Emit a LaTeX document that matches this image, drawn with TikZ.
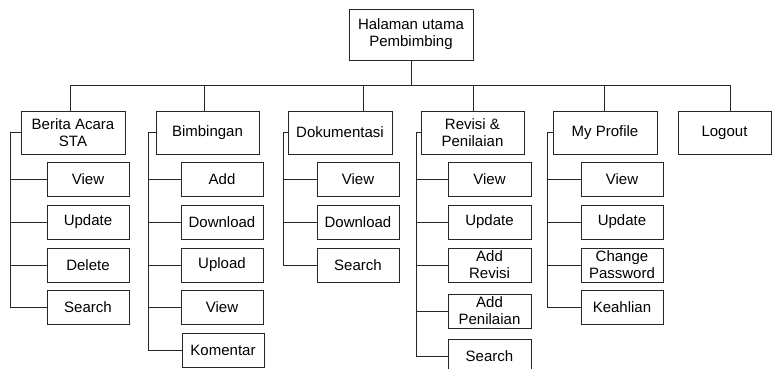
\documentclass[tikz,border=0pt]{standalone}
\usepackage{fontspec}
\setmainfont{Liberation Sans}
\begin{document}
\begin{tikzpicture}[x=1pt,y=-1pt,
  box/.style={draw=black!85,line width=0.8pt,fill=white,inner sep=0pt,align=center,
    font=\fontsize{15}{17}\selectfont,text=black},
  menu/.style={box,minimum height=43pt},
  sub/.style={box,minimum width=82pt,minimum height=34pt},
  wire/.style={draw=black!85,line width=0.8pt}]
\useasboundingbox (0,0) rectangle (772,368);

% root
\node[box,minimum width=124pt,minimum height=51pt] (root) at (411,34.5) {Halaman utama\\Pembimbing};

% main menu
\node[menu,minimum width=104pt] (berita) at (73,132.5)  {Berita Acara\\STA};
\node[menu,minimum width=103pt] (bimb)   at (207.5,132.5) {Bimbingan};
\node[menu,minimum width=104pt] (dok)    at (340,132.5) {Dokumentasi};
\node[menu,minimum width=103pt] (rev)    at (472.5,132.5) {Revisi \&\\Penilaian};
\node[menu,minimum width=104pt] (prof)   at (605,132.5) {My Profile};
\node[menu,minimum width=93pt]  (logout) at (724.5,132.5) {Logout};

% bus from the root to the menu
\coordinate (bus) at (411,85);
\coordinate (d1) at (70,85);
\coordinate (d2) at (204,85);
\coordinate (d3) at (363,85);
\coordinate (d4) at (473,85);
\coordinate (d5) at (604,85);
\coordinate (d6) at (730,85);
\draw[wire] (root.south) -- (bus);
\draw[wire] (d1) -- (d6);
\draw[wire] (d1) -- (d1 |- berita.north);
\draw[wire] (d2) -- (d2 |- bimb.north);
\draw[wire] (d3) -- (d3 |- dok.north);
\draw[wire] (d4) -- (d4 |- rev.north);
\draw[wire] (d5) -- (d5 |- prof.north);
\draw[wire] (d6) -- (d6 |- logout.north);

% Berita Acara STA
\node[sub] (a1) at (88,179) {View};
\node[sub] (a2) at (88,222) {Update};
\node[sub] (a3) at (88,265) {Delete};
\node[sub] (a4) at (88,307) {Search};
\coordinate (sa) at (10,132.5);
\draw[wire] (berita.west) -- (sa) |- (a4.west);
\foreach \n in {a1,a2,a3} \draw[wire] (sa |- \n.west) -- (\n.west);

% Bimbingan
\node[sub] (b1) at (222,179) {Add};
\node[sub] (b2) at (222,222) {Download};
\node[sub] (b3) at (222,265) {Upload};
\node[sub] (b4) at (222,307) {View};
\node[sub] (b5) at (223,350) {Komentar};
\coordinate (sb) at (148,132.5);
\draw[wire] (bimb.west) -- (sb) |- (b5.west);
\foreach \n in {b1,b2,b3,b4} \draw[wire] (sb |- \n.west) -- (\n.west);

% Dokumentasi
\node[sub] (c1) at (358,179) {View};
\node[sub] (c2) at (358,222) {Download};
\node[sub] (c3) at (358,265) {Search};
\coordinate (sc) at (283,132.5);
\draw[wire] (dok.west) -- (sc) |- (c3.west);
\foreach \n in {c1,c2} \draw[wire] (sc |- \n.west) -- (\n.west);

% Revisi & Penilaian
\node[sub,minimum width=83pt] (r1) at (489.5,179) {View};
\node[sub,minimum width=83pt] (r2) at (489.5,222) {Update};
\node[sub,minimum width=83pt] (r3) at (489.5,265) {Add\\Revisi};
\node[sub,minimum width=83pt] (r4) at (489.5,311) {Add\\Penilaian};
\node[sub,minimum width=83pt] (r5) at (489.5,356) {Search};
\coordinate (sr) at (416,132.5);
\draw[wire] (rev.west) -- (sr) |- (r5.west);
\foreach \n in {r1,r2,r3,r4} \draw[wire] (sr |- \n.west) -- (\n.west);

% My Profile
\node[sub] (p1) at (622,179) {View};
\node[sub] (p2) at (622,222) {Update};
\node[sub] (p3) at (622,265) {Change\\Password};
\node[sub] (p4) at (622,307) {Keahlian};
\coordinate (sp) at (547,132.5);
\draw[wire] (prof.west) -- (sp) |- (p4.west);
\foreach \n in {p1,p2,p3} \draw[wire] (sp |- \n.west) -- (\n.west);
\end{tikzpicture}
\end{document}
